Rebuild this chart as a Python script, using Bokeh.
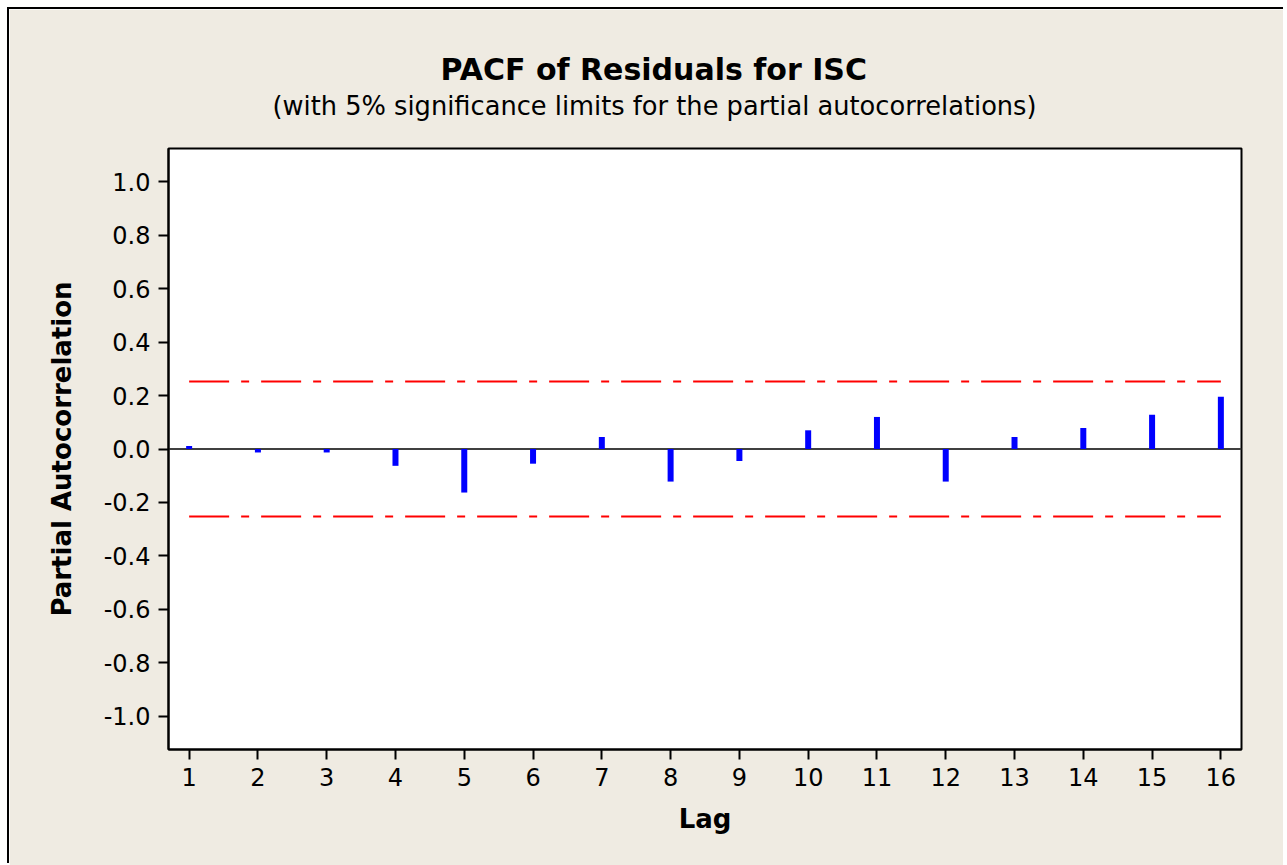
from bokeh.plotting import figure
from bokeh.models import Title, Span, FixedTicker, NumeralTickFormatter, Range1d
from bokeh.embed import file_html
from bokeh.resources import INLINE

# ---- data ----
lags = list(range(1, 17))
pacf = [0.011, -0.013, -0.013, -0.063, -0.163, -0.055, 0.045, -0.122,
        -0.045, 0.070, 0.120, -0.122, 0.045, 0.079, 0.128, 0.196]
sig_limit = 0.2525
y_ticks = [-1.0, -0.8, -0.6, -0.4, -0.2, 0.0, 0.2, 0.4, 0.6, 0.8, 1.0]

title_text = "PACF of Residuals for ISC"
subtitle_text = "(with 5% significance limits for the partial autocorrelations)"
x_label = "Lag"
y_label = "Partial Autocorrelation"

FONT = "DejaVu Sans"
BG = "#EFEBE2"

p = figure(width=1278, height=856, output_backend="svg", toolbar_location=None,
           x_range=Range1d(0.7, 16.3), y_range=Range1d(-1.125, 1.125),
           min_border_left=159, min_border_right=46, min_border_top=139,
           min_border_bottom=116, background_fill_color="white",
           border_fill_color=BG, outline_line_color="black",
           outline_line_width=2, outline_line_alpha=1.0)

# outer panel position and its border line (visible on the left and top)
p.styles = {"margin-left": "9px", "margin-top": "9px",
            "box-shadow": "-2px -2px 0px 0px black",
            "clip-path": "inset(-3px 4px 0px -3px)"}

p.title.text = ""

sub = Title(text=subtitle_text, align="left", text_font=FONT,
            text_font_size="25.7px", text_font_style="normal", text_color="black",
            standoff=55, offset=104)
p.add_layout(sub, "above")
main = Title(text=title_text, align="left", text_font=FONT,
             text_font_size="30px", text_font_style="bold", text_color="black",
             standoff=-50, offset=272)
p.add_layout(main, "above")

# zero line
p.add_layout(Span(location=0, dimension="width", line_color="#404040",
                  line_width=2, level="underlay"))

# significance limits
for s in (sig_limit, -sig_limit):
    p.line(x=[lags[0], lags[-1]], y=[s, s], line_color="red", line_width=2,
           line_dash="40 12 8 12")

# bars
p.segment(x0=lags, y0=[0] * len(lags), x1=lags, y1=pacf, line_color="blue",
          line_width=6, line_cap="butt")

# axes
p.xaxis.ticker = FixedTicker(ticks=lags)
p.yaxis.ticker = FixedTicker(ticks=y_ticks)
p.yaxis.formatter = NumeralTickFormatter(format="0.0")
p.xaxis.axis_label = x_label
p.yaxis.axis_label = y_label
for ax in (p.xaxis, p.yaxis):
    ax.axis_line_color = "black"
    ax.axis_line_width = 2
    ax.major_tick_line_color = "black"
    ax.major_tick_line_width = 2
    ax.major_tick_out = 10
    ax.major_tick_in = 0
    ax.minor_tick_line_color = None
    ax.major_label_text_font = FONT
    ax.major_label_text_font_size = "24px"
    ax.major_label_text_color = "black"
    ax.axis_label_text_font = FONT
    ax.axis_label_text_font_size = "26px"
    ax.axis_label_text_font_style = "bold"
    ax.axis_label_text_color = "black"
p.xaxis.major_label_standoff = 8
p.xaxis.axis_label_standoff = 15
p.yaxis.major_label_standoff = 8
p.yaxis.axis_label_standoff = 24

p.xgrid.visible = False
p.ygrid.visible = False

open("out.html", "w").write(file_html(p, INLINE))
